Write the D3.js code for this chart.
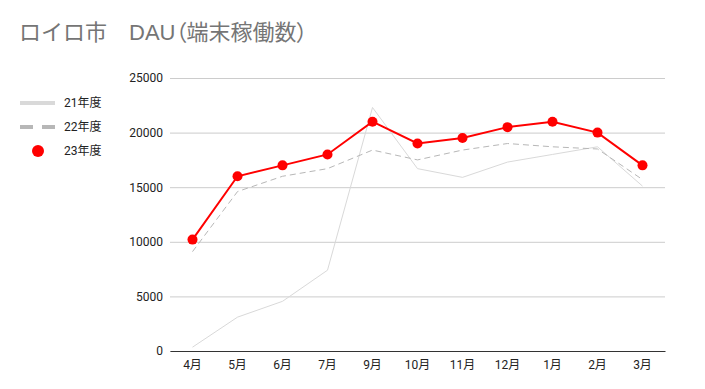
<!DOCTYPE html>
<html>
<head>
<meta charset="utf-8">
<script src="https://cdn.jsdelivr.net/npm/d3@7"></script>
<style>
  body { margin: 0; background: #fff; }
  text { font-family: Roboto, "Noto Sans CJK JP", sans-serif; }
  .title { font-family: "Liberation Sans", Arial, "Noto Sans CJK JP", sans-serif; }
  .paren { font-feature-settings: "palt"; }
</style>
</head>
<body>
<div id="chart"></div>
<script>
// data
const months = ["4月", "5月", "6月", "7月", "9月", "10月", "11月", "12月", "1月", "2月", "3月"];
const fy21 = [350, 3100, 4550, 7400, 22300, 16700, 15900, 17300, 18000, 18700, 15100];
const fy22 = [9100, 14600, 16000, 16700, 18400, 17500, 18400, 19000, 18700, 18500, 15700];
const fy23 = [10200, 16000, 17000, 18000, 21000, 19000, 19500, 20500, 21000, 20000, 17000];
const yTicks = [0, 5000, 10000, 15000, 20000, 25000];
const titleParts = ["ロイロ市　DAU", "（", "端末稼働数", "）"];

(function lineChart(){
    let width = 705,
    height = 389,
    margin = ({top: 78, right: 40, bottom: 38, left: 170});

    const svg = d3.select("#chart")
    .append("svg")
    .attr("width", width)
    .attr("height", height);

    // title (parens drawn proportional)
    svg.append("text")
    .classed("title", true)
    .attr("x", 19)
    .attr("y", 40)
    .attr("fill", "#757575")
    .style("font-size", "22px")
    .selectAll("tspan")
    .data(titleParts)
    .join("tspan")
    .classed("paren", (d, i) => i % 2 == 1)
    .text(d => d);

    let x = d3.scaleBand()
    .domain(months)
    .range([margin.left, width - margin.right]);

    let y = d3.scaleLinear()
    .domain([0, 25000])
    .range([height - margin.bottom, margin.top]);

    let cx = d => x(d) + x.bandwidth() / 2;

    // grid + y labels
    let yAxis = svg.append("g")
    .attr("transform", `translate(${margin.left},0)`)
    .call(d3.axisLeft(y).tickValues(yTicks).tickSize(-(width - margin.left - margin.right)).tickPadding(7).tickFormat(d3.format("d")));
    yAxis.select(".domain").remove();
    yAxis.selectAll(".tick line").attr("stroke", "#cccccc");
    yAxis.selectAll(".tick text").attr("fill", "#222").style("font-size", "12px");

    // x axis
    let xAxis = svg.append("g")
    .attr("transform", `translate(0,${height - margin.bottom})`)
    .call(d3.axisBottom(x).tickSize(0).tickPadding(9));
    xAxis.select(".domain").attr("stroke", "#333").attr("stroke-width", 1);
    xAxis.selectAll(".tick text").attr("fill", "#222").style("font-size", "12px");

    let line = d3.line()
    .x((d, i) => cx(months[i]))
    .y(d => y(d));

    // 21年度
    svg.append("path")
    .datum(fy21)
    .attr("d", line)
    .attr("fill", "none")
    .attr("stroke", "#d9d9d9")
    .attr("stroke-width", 1);

    // 22年度
    svg.append("path")
    .datum(fy22)
    .attr("d", line)
    .attr("fill", "none")
    .attr("stroke", "#b7b7b7")
    .attr("stroke-width", 1)
    .attr("stroke-dasharray", "6,4");

    // 23年度
    svg.append("path")
    .datum(fy23)
    .attr("d", line)
    .attr("fill", "none")
    .attr("stroke", "#ff0000")
    .attr("stroke-width", 2);

    svg.selectAll("circle.fy23")
    .data(fy23)
    .join("circle")
    .classed("fy23", true)
    .attr("cx", (d, i) => cx(months[i]))
    .attr("cy", d => y(d))
    .attr("r", 5)
    .attr("fill", "#ff0000");

    // legend
    let legend = svg.append("g");
    legend.append("line")
    .attr("x1", 20).attr("x2", 55).attr("y1", 103).attr("y2", 103)
    .attr("stroke", "#d9d9d9").attr("stroke-width", 4);
    legend.append("line")
    .attr("x1", 20).attr("x2", 55).attr("y1", 127).attr("y2", 127)
    .attr("stroke", "#b7b7b7").attr("stroke-width", 4)
    .attr("stroke-dasharray", "13,9");
    legend.append("circle")
    .attr("cx", 38).attr("cy", 151).attr("r", 6)
    .attr("fill", "#ff0000");

    legend.selectAll("text")
    .data(["21年度", "22年度", "23年度"])
    .join("text")
    .attr("x", 64)
    .attr("y", (d, i) => 103 + i * 24)
    .attr("dy", "0.35em")
    .attr("fill", "#222")
    .style("font-size", "12px")
    .text(d => d);
})();
</script>
</body>
</html>
